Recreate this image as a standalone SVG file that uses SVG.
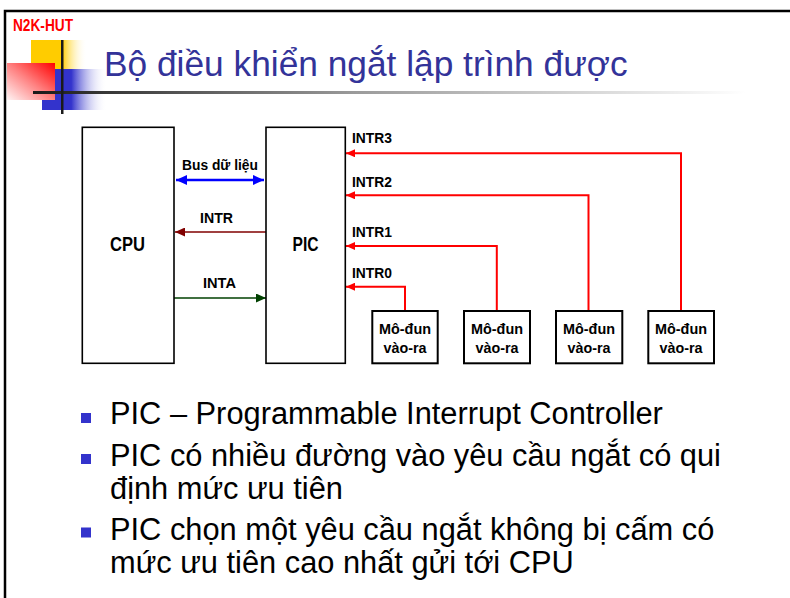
<svg xmlns="http://www.w3.org/2000/svg" width="790" height="598" viewBox="0 0 790 598">
  <style>
    .box { fill: #ffffff; stroke: #000000; stroke-width: 1.6; }
    .mod { fill: #ffffff; stroke: #000000; stroke-width: 2; }
    .lbl { font-family: "Liberation Sans", Arial, sans-serif; font-weight: bold; font-size: 14.5px; fill: #000000; }
    .modt { font-family: "Liberation Sans", Arial, sans-serif; font-weight: bold; font-size: 15.5px; fill: #000000; }
    .big { font-family: "Liberation Sans", Arial, sans-serif; font-weight: bold; font-size: 19.5px; fill: #000000; }
    .bul { font-family: "Liberation Sans", Arial, sans-serif; font-size: 30.8px; fill: #000000; }
    .req { fill: none; stroke: #ff0000; stroke-width: 2; }
    .dot { fill: #3333cc; }
  </style>
  <defs>
    <linearGradient id="gYellow" x1="31" y1="0" x2="87" y2="0" gradientUnits="userSpaceOnUse">
      <stop offset="0" stop-color="#ffcc00"/>
      <stop offset="0.55" stop-color="#ffcc00"/>
      <stop offset="1" stop-color="#ffffff" stop-opacity="0"/>
    </linearGradient>
    <linearGradient id="gBlue" x1="42" y1="0" x2="107" y2="0" gradientUnits="userSpaceOnUse">
      <stop offset="0" stop-color="#3333cc"/>
      <stop offset="0.45" stop-color="#3333cc"/>
      <stop offset="1" stop-color="#ffffff" stop-opacity="0"/>
    </linearGradient>
    <linearGradient id="gRed" x1="1" y1="0" x2="0" y2="1">
      <stop offset="0" stop-color="#ff0000"/>
      <stop offset="0.5" stop-color="#ff8080"/>
      <stop offset="1" stop-color="#fff4f4"/>
    </linearGradient>
    <linearGradient id="gRule" x1="33" y1="0" x2="745" y2="0" gradientUnits="userSpaceOnUse">
      <stop offset="0" stop-color="#1a1a1a"/>
      <stop offset="0.45" stop-color="#9a9a9a"/>
      <stop offset="1" stop-color="#ffffff"/>
    </linearGradient>
    <marker id="aRed" markerUnits="userSpaceOnUse" markerWidth="9" markerHeight="8" refX="9" refY="4" orient="auto">
      <path d="M0,0 L9,4 L0,8 z" fill="#ff0000"/>
    </marker>
    <marker id="aBlue" markerUnits="userSpaceOnUse" markerWidth="11" markerHeight="10" refX="11" refY="5" orient="auto-start-reverse">
      <path d="M0,0 L11,5 L0,10 z" fill="#0000ff"/>
    </marker>
    <marker id="aMaroon" markerUnits="userSpaceOnUse" markerWidth="10" markerHeight="9" refX="10" refY="4.5" orient="auto">
      <path d="M0,0 L10,4.5 L0,9 z" fill="#800000"/>
    </marker>
    <marker id="aGreen" markerUnits="userSpaceOnUse" markerWidth="10" markerHeight="9" refX="10" refY="4.5" orient="auto">
      <path d="M0,0 L10,4.5 L0,9 z" fill="#004000"/>
    </marker>
  </defs>

  <rect width="790" height="598" fill="#ffffff"/>
  <!-- slide frame -->
  <path d="M5,598 V11 H790" fill="none" stroke="#000000" stroke-width="2.5"/>

  <!-- header decoration -->
  <g id="header">
    <text x="13" y="31" font-family="'Liberation Sans', Arial, sans-serif" font-weight="bold" font-size="16" fill="#ff0000" textLength="60" lengthAdjust="spacingAndGlyphs">N2K-HUT</text>
    <rect x="31" y="40" width="56" height="29" fill="url(#gYellow)"/>
    <rect x="42" y="69" width="65" height="41" fill="url(#gBlue)"/>
    <rect x="7" y="63" width="48" height="37" fill="url(#gRed)"/>
    <rect x="33" y="91" width="712" height="3" fill="url(#gRule)"/>
    <rect x="61" y="40" width="2.5" height="74" fill="#1a1a1a"/>
    <text x="104" y="76" font-family="'Liberation Sans', Arial, sans-serif" font-size="35.3" fill="#333399">Bộ điều khiển ngắt lập trình được</text>
  </g>

  <!-- connectors -->
  <g id="connectors">
    <path d="M176,180 H264" fill="none" stroke="#0000ff" stroke-width="2.5" marker-start="url(#aBlue)" marker-end="url(#aBlue)"/>
    <path d="M266,232 H175" fill="none" stroke="#800000" stroke-width="1.6" marker-end="url(#aMaroon)"/>
    <path d="M174,298 H266" fill="none" stroke="#004000" stroke-width="1.6" marker-end="url(#aGreen)"/>
    <path class="req" d="M681,311 V153.3 H346" marker-end="url(#aRed)"/>
    <path class="req" d="M588.5,311 V195.3 H346" marker-end="url(#aRed)"/>
    <path class="req" d="M496.8,311 V246 H346" marker-end="url(#aRed)"/>
    <path class="req" d="M405,311 V286.7 H346" marker-end="url(#aRed)"/>
    <text class="lbl" x="220" y="170" text-anchor="middle" textLength="76" lengthAdjust="spacingAndGlyphs">Bus dữ liệu</text>
    <text class="lbl" x="216.5" y="223" text-anchor="middle" textLength="33" lengthAdjust="spacingAndGlyphs">INTR</text>
    <text class="lbl" x="219.5" y="288" text-anchor="middle" textLength="33" lengthAdjust="spacingAndGlyphs">INTA</text>
    <text class="lbl" x="352" y="143.3" textLength="40" lengthAdjust="spacingAndGlyphs">INTR3</text>
    <text class="lbl" x="352" y="186.7" textLength="40" lengthAdjust="spacingAndGlyphs">INTR2</text>
    <text class="lbl" x="352" y="237" textLength="40" lengthAdjust="spacingAndGlyphs">INTR1</text>
    <text class="lbl" x="352" y="278" textLength="40" lengthAdjust="spacingAndGlyphs">INTR0</text>
  </g>

  <!-- nodes -->
  <g id="cpu">
    <rect class="box" x="82.3" y="127.3" width="91.7" height="236"/>
    <text class="big" x="127.5" y="251" text-anchor="middle" textLength="35" lengthAdjust="spacingAndGlyphs">CPU</text>
  </g>
  <g id="pic">
    <rect class="box" x="266" y="127.3" width="79.3" height="236"/>
    <text class="big" x="305.5" y="251" text-anchor="middle" textLength="26" lengthAdjust="spacingAndGlyphs">PIC</text>
  </g>
  <g id="io0">
    <rect class="mod" x="372.3" y="311" width="65.4" height="52.3"/>
    <text class="modt" x="405" y="333.5" text-anchor="middle" textLength="52" lengthAdjust="spacingAndGlyphs">Mô-đun</text>
    <text class="modt" x="405" y="353" text-anchor="middle" textLength="43" lengthAdjust="spacingAndGlyphs">vào-ra</text>
  </g>
  <g id="io1">
    <rect class="mod" x="464" y="311" width="66" height="52.3"/>
    <text class="modt" x="497" y="333.5" text-anchor="middle" textLength="52" lengthAdjust="spacingAndGlyphs">Mô-đun</text>
    <text class="modt" x="497" y="353" text-anchor="middle" textLength="43" lengthAdjust="spacingAndGlyphs">vào-ra</text>
  </g>
  <g id="io2">
    <rect class="mod" x="556" y="311" width="66.3" height="52.3"/>
    <text class="modt" x="589" y="333.5" text-anchor="middle" textLength="52" lengthAdjust="spacingAndGlyphs">Mô-đun</text>
    <text class="modt" x="589" y="353" text-anchor="middle" textLength="43" lengthAdjust="spacingAndGlyphs">vào-ra</text>
  </g>
  <g id="io3">
    <rect class="mod" x="648.3" y="311" width="65.7" height="52.3"/>
    <text class="modt" x="681" y="333.5" text-anchor="middle" textLength="52" lengthAdjust="spacingAndGlyphs">Mô-đun</text>
    <text class="modt" x="681" y="353" text-anchor="middle" textLength="43" lengthAdjust="spacingAndGlyphs">vào-ra</text>
  </g>

  <!-- bullet list -->
  <g id="notes">
    <rect class="dot" x="81" y="413" width="10" height="10"/>
    <rect class="dot" x="81" y="454" width="10" height="10"/>
    <rect class="dot" x="81" y="527.5" width="10" height="10"/>
    <text class="bul" x="110" y="424">PIC – Programmable Interrupt Controller</text>
    <text class="bul" x="110" y="466">PIC có nhiều đường vào yêu cầu ngắt có qui</text>
    <text class="bul" x="110" y="499">định mức ưu tiên</text>
    <text class="bul" x="110" y="540">PIC chọn một yêu cầu ngắt không bị cấm có</text>
    <text class="bul" x="110" y="573">mức ưu tiên cao nhất gửi tới CPU</text>
  </g>
</svg>
